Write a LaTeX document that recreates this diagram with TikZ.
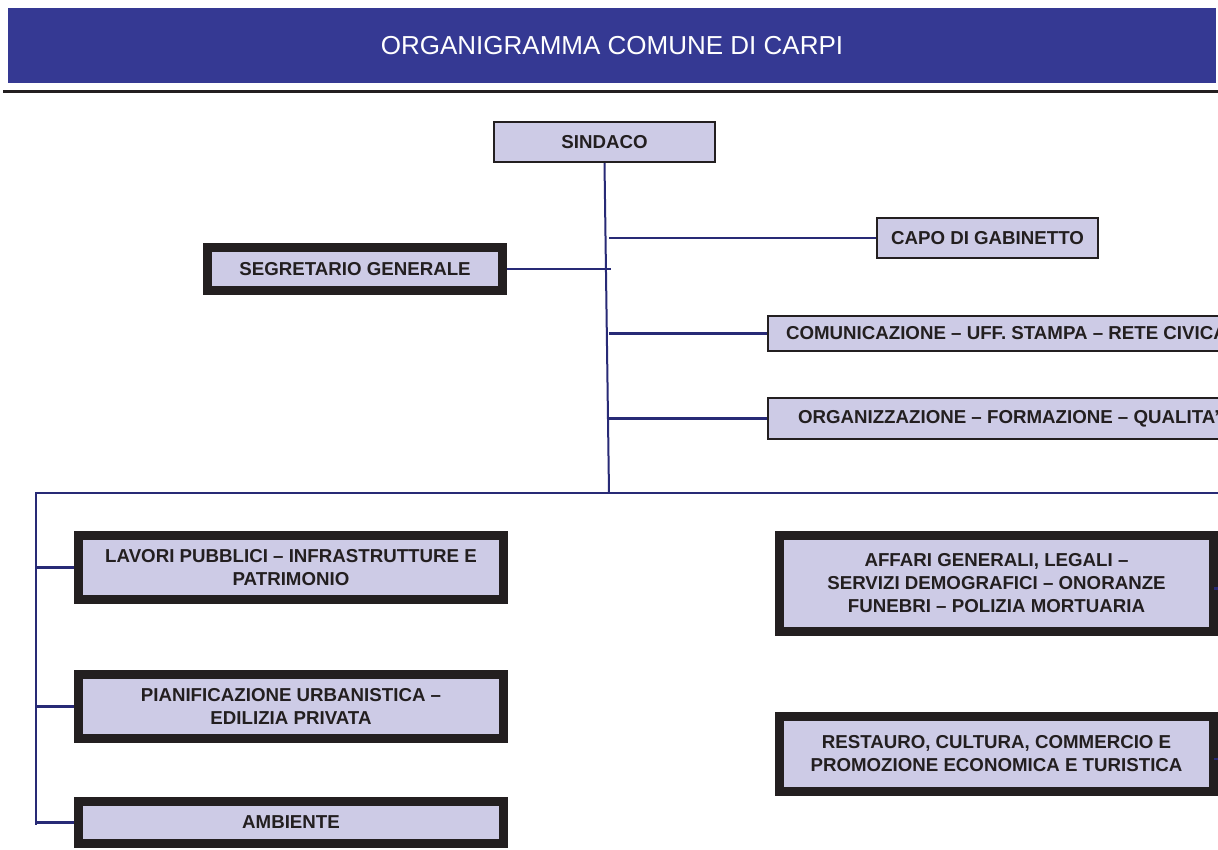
\documentclass[tikz,border=0pt]{standalone}
\usepackage{fontspec}
\setmainfont{Liberation Sans}
\usetikzlibrary{positioning}
\definecolor{bandblue}{RGB}{53,57,147}
\definecolor{linkblue}{RGB}{40,42,118}
\definecolor{boxfill}{RGB}{205,203,230}
\definecolor{inkdark}{RGB}{35,31,32}
\tikzset{
  thinbox/.style={draw=inkdark,line width=2pt,fill=boxfill,text=inkdark,
    font=\fontsize{18.7}{23}\selectfont\bfseries,align=center,inner sep=0pt},
  thickbox/.style={thinbox,line width=9pt},
  link/.style={draw=linkblue,line width=2.5pt}
}

\begin{document}
\begin{tikzpicture}[x=1pt,y=-1pt]
   \useasboundingbox (0,0) rectangle (1218,849);
   \clip (0,0) rectangle (1218,849);
   \fill[white] (0,0) rectangle (1218,849);
 %
   \fill[bandblue] (8,8) rectangle (1216,83);
   \node (title) at (612,46) {\color{white}\fontsize{26}{30}\selectfont ORGANIGRAMMA COMUNE DI CARPI};
   \draw[inkdark,line width=3pt] (3,91) -- (1218,91);
 %
   \node[thinbox,minimum width=221,minimum height=40] (sindaco) at (604.5,142) {SINDACO};
   \node[thinbox,minimum width=221,minimum height=40] (capo) at (987.5,238) {CAPO DI GABINETTO};
   \node[thickbox,minimum width=295,minimum height=43] (segretario) at (355,269) {SEGRETARIO GENERALE};
   \node[thinbox,minimum height=35,inner xsep=18pt,anchor=west] (comunic) at (767,333.5)
      {COMUNICAZIONE -- UFF. STAMPA -- RETE CIVICA};
   \node[thinbox,minimum height=41,inner xsep=30pt,anchor=west] (organiz) at (767,418.5)
      {ORGANIZZAZIONE -- FORMAZIONE -- QUALITA'};
 %
   \node[thickbox,minimum width=425,minimum height=64] (lavori) at (291,567.5)
      {LAVORI PUBBLICI -- INFRASTRUTTURE E\\PATRIMONIO};
   \node[thickbox,minimum width=425,minimum height=64] (pianif) at (291,706.5)
      {PIANIFICAZIONE URBANISTICA --\\EDILIZIA PRIVATA};
   \node[thickbox,minimum width=425,minimum height=42] (ambiente) at (291,822.5) {AMBIENTE};
   \node[thickbox,minimum width=434,minimum height=96] (affari) at (996.5,583.5)
      {AFFARI GENERALI, LEGALI --\\SERVIZI DEMOGRAFICI -- ONORANZE\\FUNEBRI -- POLIZIA MORTUARIA};
   \node[thickbox,minimum width=434,minimum height=75] (restauro) at (996.5,754)
      {RESTAURO, CULTURA, COMMERCIO E\\PROMOZIONE ECONOMICA E TURISTICA};
 %
   \coordinate (trunkbot) at (609,493);
   \coordinate (busleft) at (36,493);
   \coordinate (busright) at (1230,493);
   \draw[link,line width=2pt] (sindaco.south) -- (trunkbot);
   \draw[link] (trunkbot |- capo.west) -- (capo.west);
   \draw[link] (segretario.east) -- ([xshift=2pt]segretario.east -| trunkbot);
   \draw[link] (trunkbot |- comunic.west) -- (comunic.west);
   \draw[link] (trunkbot |- organiz.west) -- (organiz.west);
   \draw[link] (busright) -- (busleft) -- ([yshift=-2pt]busleft |- ambiente.west);
   \draw[link] (busleft |- lavori.west) -- (lavori.west);
   \draw[link] (busleft |- pianif.west) -- (pianif.west);
   \draw[link] (busleft |- ambiente.west) -- (ambiente.west);
   \draw[link] ([xshift=-4pt,yshift=-5pt]affari.east) -- ([yshift=-5pt]affari.east -| busright);
   \draw[link] ([xshift=-4pt,yshift=-5pt]restauro.east) -- ([yshift=-5pt]restauro.east -| busright);
\end{tikzpicture}
\end{document}
